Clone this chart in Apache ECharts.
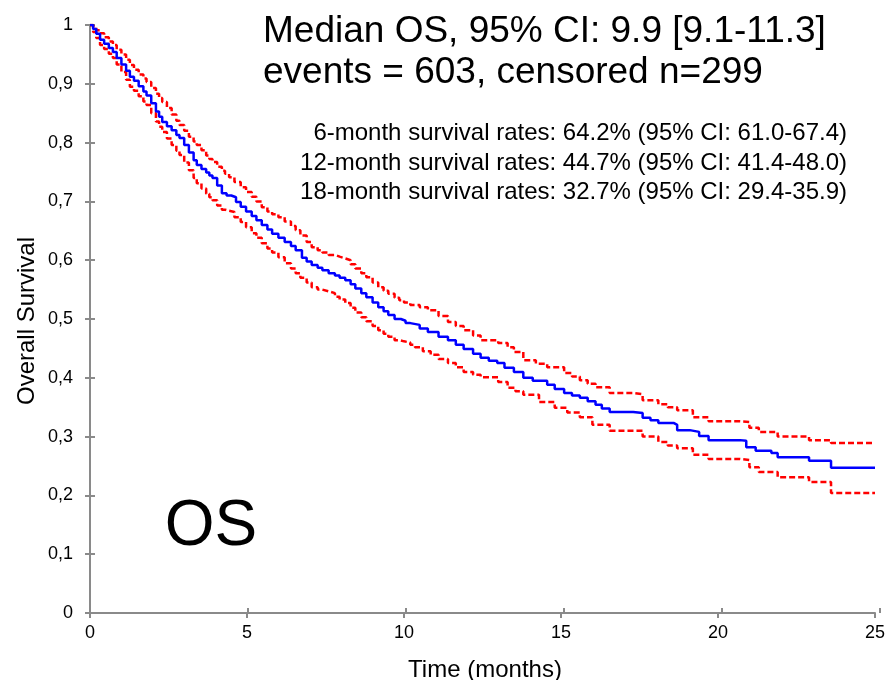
<!DOCTYPE html>
<html>
<head>
<meta charset="utf-8">
<script src="https://cdn.jsdelivr.net/npm/echarts@6/dist/echarts.min.js"></script>
<style>html,body{margin:0;padding:0;background:#fff;}#c{width:888px;height:680px;}</style>
</head>
<body>
<div id="c"></div>
<script>
// Kaplan-Meier overall survival estimate
const osTime = [0,0.1,0.2,0.32,0.45,0.6,0.73,0.85,1.0,1.15,1.27,1.4,1.55,1.7,1.8,1.95,2.1,2.2,2.3,2.45,2.6,2.75,2.85,3.0,3.15,3.3,3.4,3.55,3.7,3.8,3.9,4.05,4.2,4.35,4.5,4.65,4.8,4.97,5.15,5.3,5.47,5.65,5.8,6.0,6.2,6.4,6.55,6.75,6.9,7.06,7.25,7.4,7.6,7.8,7.95,8.13,8.3,8.45,8.64,8.8,9.0,9.18,9.35,9.5,9.7,9.9,10.05,10.2,
  10.5,10.76,11.1,11.4,11.65,11.9,12.2,12.44,12.7,12.97,13.2,13.5,13.8,14.1,14.56,14.8,15.1,15.35,15.6,15.85,16.1,16.3,16.55,17.3,17.6,17.85,18.1,18.6,18.7,19.1,19.4,19.7,20.7,20.9,21.2,21.7,21.9,22.9,23.6,25];
const osSurv = [1,0.993,0.985,0.975,0.968,0.961,0.954,0.944,0.933,0.922,0.912,0.905,0.896,0.887,0.88,0.867,0.853,0.844,0.835,0.828,0.821,0.813,0.808,0.796,0.783,0.77,0.762,0.755,0.749,0.744,0.74,0.727,0.714,0.71,0.707,0.699,0.691,0.683,0.675,0.668,0.66,0.652,0.645,0.638,0.631,0.624,0.617,0.604,0.598,0.592,0.587,0.583,0.578,0.574,0.57,0.566,0.559,0.552,0.544,0.537,0.528,0.52,0.513,0.507,0.5,0.497,0.493,0.49,
  0.484,0.478,0.47,0.464,0.456,0.449,0.441,0.434,0.429,0.425,0.417,0.41,0.4,0.395,0.388,0.381,0.374,0.37,0.366,0.36,0.354,0.348,0.342,0.34,0.332,0.328,0.323,0.32,0.311,0.308,0.301,0.294,0.293,0.282,0.276,0.272,0.265,0.259,0.247,0.247];
// Upper 95% CI
const upTime = [0,0.1,0.2,0.32,0.45,0.6,0.73,0.85,1.0,1.15,1.27,1.4,1.55,1.7,1.8,1.95,2.1,2.2,2.3,2.45,2.6,2.75,2.85,3.0,3.15,3.3,3.4,3.55,3.7,3.8,3.9,4.05,4.2,4.3,4.43,4.6,4.8,4.97,5.15,5.3,5.47,5.65,5.8,6.0,6.2,6.4,6.55,6.7,6.9,7.06,7.25,7.4,7.6,7.8,7.95,8.13,8.3,8.45,8.64,8.8,9.0,9.18,9.35,9.5,9.7,9.85,10.0,10.2,
  10.5,10.76,11.1,11.4,11.65,11.9,12.2,12.44,13.0,13.3,13.5,13.8,14.2,14.56,15.1,15.35,15.6,15.85,16.1,16.55,17.3,17.6,18.1,18.4,18.7,19.2,19.7,20.7,21.0,21.3,21.9,22.9,23.6,25];
const upSurv = [1,0.996,0.991,0.986,0.979,0.972,0.966,0.958,0.95,0.941,0.932,0.924,0.916,0.909,0.903,0.893,0.883,0.876,0.869,0.859,0.848,0.837,0.83,0.82,0.81,0.802,0.796,0.787,0.778,0.772,0.767,0.759,0.752,0.747,0.741,0.733,0.724,0.716,0.708,0.7,0.69,0.683,0.678,0.673,0.666,0.658,0.651,0.642,0.631,0.622,0.617,0.613,0.609,0.606,0.603,0.6,0.593,0.586,0.578,0.571,0.562,0.554,0.548,0.543,0.536,0.532,0.528,0.524,
  0.52,0.515,0.505,0.495,0.488,0.481,0.472,0.464,0.459,0.452,0.444,0.43,0.424,0.418,0.408,0.402,0.396,0.39,0.384,0.374,0.372,0.362,0.355,0.35,0.345,0.333,0.326,0.325,0.315,0.308,0.3,0.294,0.289,0.289];
// Lower 95% CI
const loTime = [0,0.1,0.2,0.32,0.45,0.6,0.73,0.85,1.0,1.15,1.27,1.4,1.55,1.7,1.8,1.95,2.1,2.2,2.3,2.45,2.6,2.75,2.85,3.0,3.15,3.3,3.4,3.55,3.7,3.8,3.9,4.05,4.2,4.3,4.43,4.6,4.8,4.97,5.15,5.3,5.47,5.65,5.8,6.0,6.2,6.4,6.55,6.7,6.9,7.06,7.25,7.4,7.6,7.8,7.95,8.13,8.3,8.45,8.64,8.8,9.0,9.18,9.35,9.5,9.7,9.85,10.0,10.2,
  10.35,10.6,10.85,11.1,11.4,11.65,11.9,12.2,12.44,13.0,13.3,13.55,13.8,14.3,14.8,15.2,15.6,16.0,16.55,17.2,17.6,18.1,18.4,18.7,19.2,19.7,20.7,21.0,21.3,21.9,22.9,23.6,25];
const loSurv = [1,0.988,0.978,0.966,0.959,0.951,0.944,0.933,0.92,0.907,0.895,0.888,0.879,0.87,0.864,0.85,0.836,0.827,0.818,0.807,0.796,0.786,0.779,0.766,0.753,0.74,0.731,0.722,0.713,0.707,0.702,0.693,0.686,0.684,0.682,0.673,0.665,0.656,0.646,0.638,0.629,0.62,0.613,0.605,0.595,0.586,0.578,0.57,0.562,0.554,0.55,0.547,0.544,0.538,0.533,0.527,0.519,0.511,0.503,0.496,0.488,0.481,0.475,0.47,0.464,0.462,0.46,0.456,
  0.452,0.445,0.439,0.432,0.425,0.418,0.41,0.405,0.401,0.393,0.383,0.377,0.371,0.359,0.349,0.341,0.333,0.32,0.31,0.31,0.3,0.291,0.285,0.28,0.269,0.262,0.26,0.248,0.24,0.231,0.223,0.204,0.204];

const xTicks = [0,5,10,15,20,25];
const yTicks = [0,0.1,0.2,0.3,0.4,0.5,0.6,0.7,0.8,0.9,1];
const titleLines = ["Median OS, 95% CI: 9.9 [9.1-11.3]", "events = 603, censored n=299"];
const rateLines = ["6-month survival rates: 64.2% (95% CI: 61.0-67.4)", "12-month survival rates: 44.7% (95% CI: 41.4-48.0)", "18-month survival rates: 32.7% (95% CI: 29.4-35.9)"];
const panelLabel = "OS";
const xName = "Time (months)";
const yName = "Overall Survival";

const zip = (a, b) => a.map((t, i) => [t, b[i]]);
const FONT = '"Liberation Sans", Arial, sans-serif';
const AX = '#8a8a8a';

const chart = echarts.init(document.getElementById('c'), null, {renderer: 'canvas'});
const gridBox = {left: 90, right: 8, top: 25, bottom: 67};
chart.setOption({
  animation: false,
  backgroundColor: '#fff',
  grid: [Object.assign({}, gridBox), Object.assign({}, gridBox)],
  xAxis: [{
    type: 'value', gridIndex: 0, min: xTicks[0], max: xTicks[xTicks.length - 1], interval: 5,
    axisLine: {lineStyle: {color: AX, width: 2}},
    axisTick: {show: true, inside: false, length: 5, lineStyle: {color: AX, width: 2}},
    axisLabel: {color: '#000', fontFamily: FONT, fontSize: 18, margin: 11, formatter: v => String(v)},
    splitLine: {show: false}
  }, {
    type: 'value', gridIndex: 1, min: xTicks[0], max: xTicks[xTicks.length - 1], interval: 5,
    axisLine: {show: false},
    axisTick: {show: true, inside: true, length: 5, lineStyle: {color: AX, width: 2}},
    axisLabel: {show: false}, splitLine: {show: false}
  }],
  yAxis: [{
    type: 'value', gridIndex: 0, min: yTicks[0], max: yTicks[yTicks.length - 1], interval: 0.1,
    axisLine: {lineStyle: {color: AX, width: 2}},
    axisTick: {show: true, inside: false, length: 5, lineStyle: {color: AX, width: 2}},
    axisLabel: {color: '#000', fontFamily: FONT, fontSize: 18, margin: 17,
      formatter: v => { const r = Math.round(v * 10) / 10; return (r === 0 || r === 1) ? String(r) : r.toFixed(1).replace('.', ','); }},
    splitLine: {show: false}
  }, {
    type: 'value', gridIndex: 1, min: 0, max: 1, interval: 0.1,
    axisLine: {show: false},
    axisTick: {show: true, inside: true, length: 5, lineStyle: {color: AX, width: 2}},
    axisLabel: {show: false}, splitLine: {show: false}
  }],
  series: [{
    type: 'line', name: 'Upper CI', step: 'end', showSymbol: false, xAxisIndex: 0, yAxisIndex: 0,
    data: zip(upTime, upSurv), lineStyle: {color: '#ff0000', width: 2.5, type: [6, 3]}, z: 2
  }, {
    type: 'line', name: 'Lower CI', step: 'end', showSymbol: false, xAxisIndex: 0, yAxisIndex: 0,
    data: zip(loTime, loSurv), lineStyle: {color: '#ff0000', width: 2.5, type: [6, 3]}, z: 2
  }, {
    type: 'line', name: 'OS', step: 'end', showSymbol: false, xAxisIndex: 0, yAxisIndex: 0,
    data: zip(osTime, osSurv), lineStyle: {color: '#0000ff', width: 2.5}, z: 3
  }],
  graphic: [
    {type: 'text', x: 263, y: 32, style: {text: titleLines[0], font: '37px ' + FONT, fill: '#000', verticalAlign: 'middle'}},
    {type: 'text', x: 263, y: 73, style: {text: titleLines[1], font: '37px ' + FONT, fill: '#000', verticalAlign: 'middle'}},
    {type: 'text', x: 847, y: 133, style: {text: rateLines[0], font: '24px ' + FONT, fill: '#000', align: 'right', verticalAlign: 'middle'}},
    {type: 'text', x: 847, y: 163, style: {text: rateLines[1], font: '24px ' + FONT, fill: '#000', align: 'right', verticalAlign: 'middle'}},
    {type: 'text', x: 847, y: 192, style: {text: rateLines[2], font: '24px ' + FONT, fill: '#000', align: 'right', verticalAlign: 'middle'}},
    {type: 'text', x: 211, y: 527, style: {text: panelLabel, font: '64px ' + FONT, fill: '#000', align: 'center', verticalAlign: 'middle'}},
    {type: 'text', x: 485, y: 670, style: {text: xName, font: '24px ' + FONT, fill: '#000', align: 'center', verticalAlign: 'middle'}},
    {type: 'text', x: 27, y: 321, rotation: Math.PI / 2, style: {text: yName, font: '24px ' + FONT, fill: '#000', align: 'center', verticalAlign: 'middle'}}
  ]
});
</script>
</body>
</html>
